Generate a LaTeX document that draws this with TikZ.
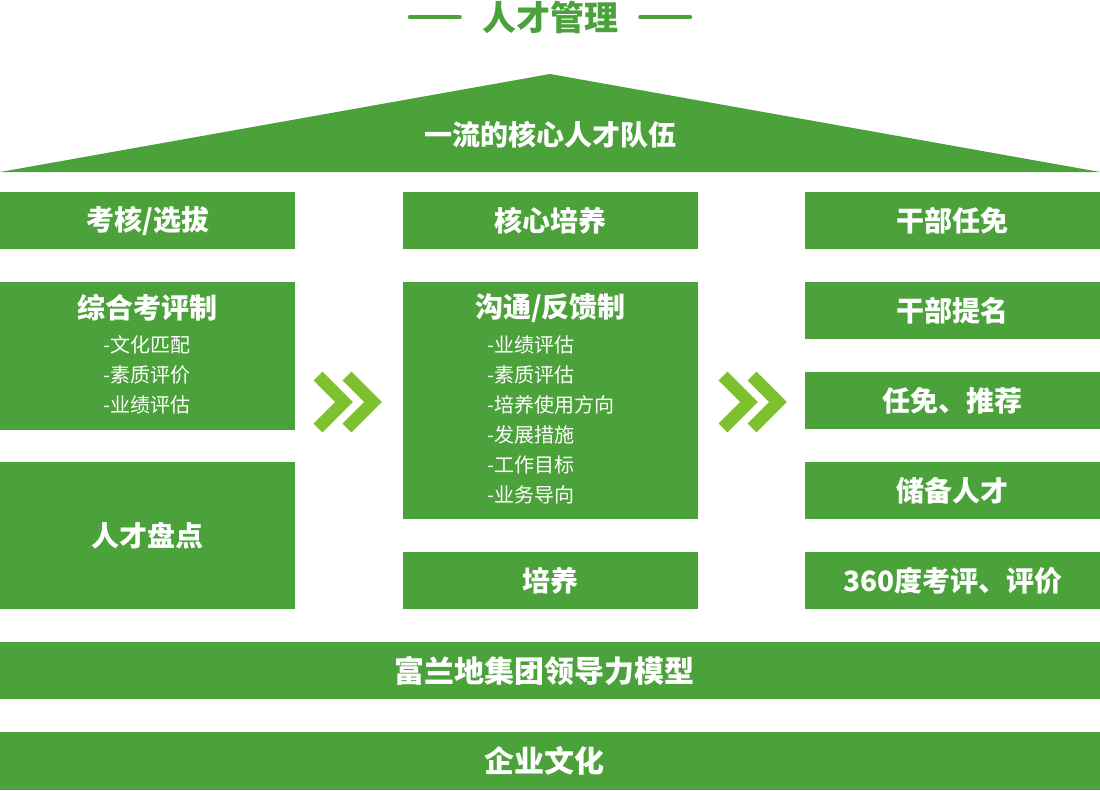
\documentclass[tikz,border=0pt]{standalone}
\usepackage{fontspec}
\setmainfont{Noto Sans CJK SC}
\definecolor{gr}{HTML}{4BA23A}
\definecolor{lg}{HTML}{7DC12E}
\begin{document}
\begin{tikzpicture}[x=1pt,y=-1pt,
  box/.style={fill=gr, draw=none, inner sep=0pt, anchor=north west, text=white,
    font=\fontsize{28}{28}\selectfont\bfseries},
  hd/.style={text=white, inner sep=0pt, font=\fontsize{28}{28}\selectfont\bfseries},
  band/.style={text=white, inner sep=0pt, font=\fontsize{30}{30}\selectfont\bfseries},
  itm/.style={text=white, inner sep=0pt, anchor=west, font=\fontsize{20}{20}\selectfont},
  chev/.style={draw=lg, line width=12.5pt, miter limit=10, line join=miter, line cap=butt},
  ttl/.style={text=gr, inner sep=0pt, font=\fontsize{34}{34}\selectfont\bfseries},
  tline/.style={draw=gr, line width=4pt, line cap=round}]
\path[use as bounding box, fill=white] (0,0) rectangle (1100,790);

% title
\node[ttl] (title) at (550,17) {人才管理};
\draw[tline] ([xshift=-22pt]title.west) -- ++(-50,0);
\draw[tline] ([xshift=22pt]title.east) -- ++(50,0);

% roof
\fill[gr] (0,172) -- (550,74) -- (1100,172) -- cycle;
\node[hd] (roof) at (550,135) {一流的核心人才队伍};

% left column
\node[box, minimum width=295pt, minimum height=57pt] (b11) at (0,192) {考核/选拔};
\node[box, minimum width=295pt, minimum height=148pt] (b12) at (0,282) {};
\node[hd] (h12) at (147.5,308) {综合考评制};
\node[itm] (i121) at (103,345) {-文化匹配};
\node[itm] (i122) at (103,375) {-素质评价};
\node[itm] (i123) at (103,405) {-业绩评估};
\node[box, minimum width=295pt, minimum height=147pt] (b13) at (0,462) {人才盘点};

% middle column
\node[box, minimum width=295pt, minimum height=57pt] (b21) at (403,192) {核心培养};
\node[box, minimum width=295pt, minimum height=237pt] (b22) at (403,282) {};
\node[hd] (h22) at (550.5,308) {沟通/反馈制};
\node[itm] (i221) at (487,345) {-业绩评估};
\node[itm] (i222) at (487,375) {-素质评估};
\node[itm] (i223) at (487,405) {-培养使用方向};
\node[itm] (i224) at (487,435) {-发展措施};
\node[itm] (i225) at (487,465) {-工作目标};
\node[itm] (i226) at (487,495) {-业务导向};
\node[box, minimum width=295pt, minimum height=57pt] (b23) at (403,552) {培养};

% right column
\node[box, minimum width=295pt, minimum height=57pt] (b31) at (805,192) {干部任免};
\node[box, minimum width=295pt, minimum height=57pt] (b32) at (805,282) {干部提名};
\node[box, minimum width=295pt, minimum height=57pt] (b33) at (805,372) {任免、推荐};
\node[box, minimum width=295pt, minimum height=57pt] (b34) at (805,462) {储备人才};
\node[box, minimum width=295pt, minimum height=57pt] (b35) at (805,552) {360度考评、评价};

% bottom bands
\node[box, minimum width=1100pt, minimum height=57pt] (b4) at (0,642) {};
\node[band] (t4) at (544,670.5) {富兰地集团领导力模型};
\node[box, minimum width=1100pt, minimum height=58pt] (b5) at (0,732) {};
\node[band] (t5) at (544,761) {企业文化};

% chevrons
\draw[chev] (318,376) -- (344,402) -- (318,428);
\draw[chev] (347,376) -- (373,402) -- (347,428);
\draw[chev] (723,376) -- (749,402) -- (723,428);
\draw[chev] (752,376) -- (778,402) -- (752,428);
\end{tikzpicture}
\end{document}
